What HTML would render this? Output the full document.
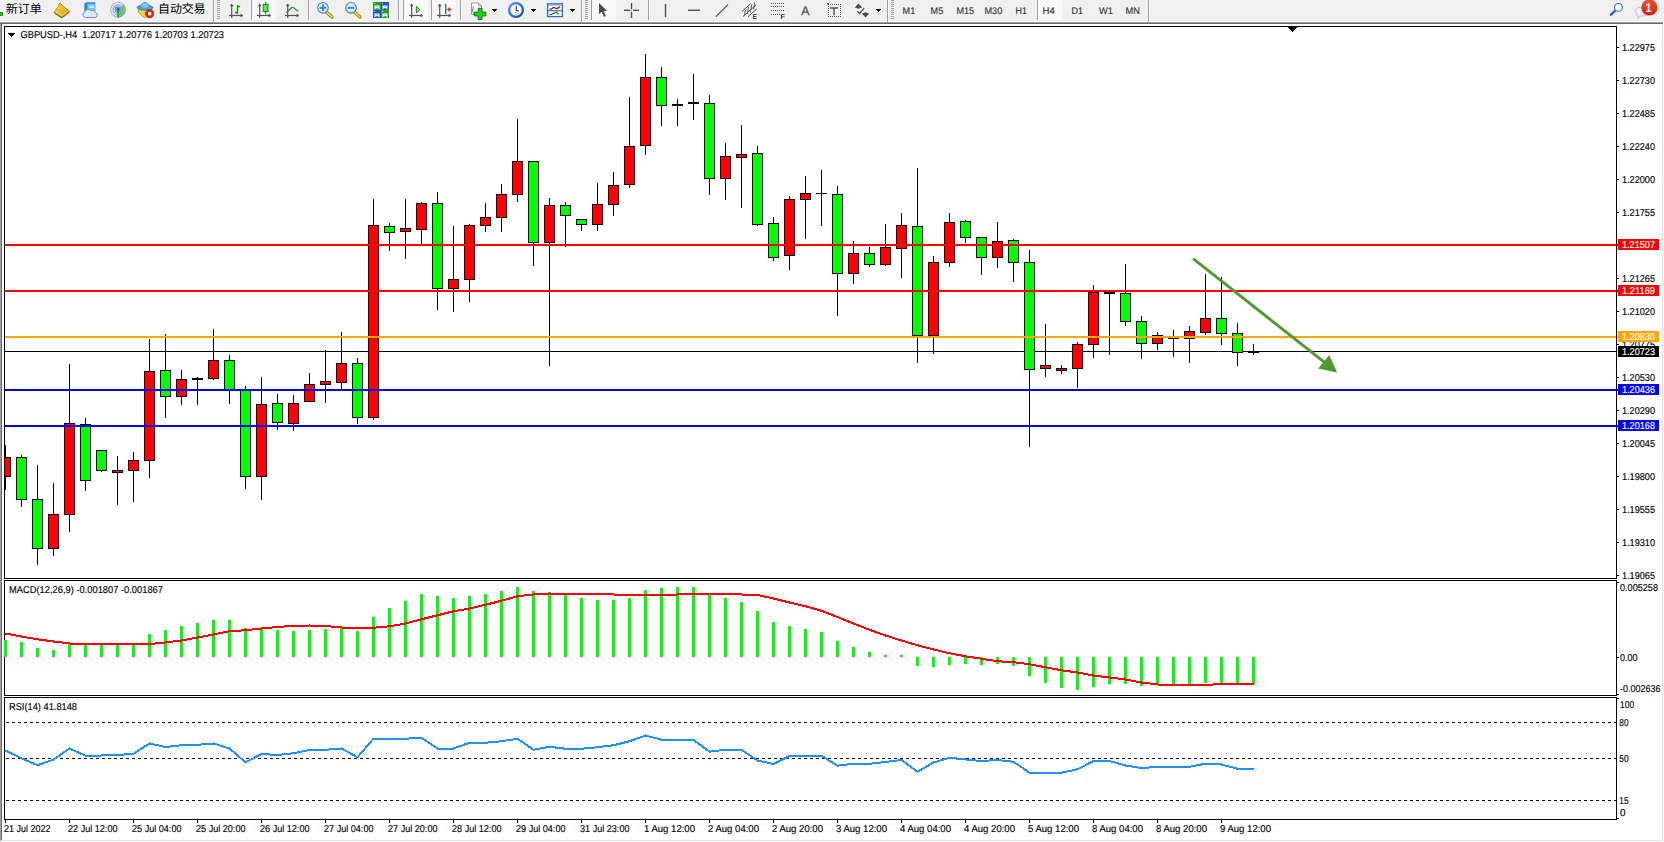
<!DOCTYPE html>
<html><head><meta charset="utf-8"><title>GBPUSD-,H4</title>
<style>
html,body{margin:0;padding:0;background:#f0f0f0;overflow:hidden}
body{width:1664px;height:842px}
svg{display:block;font-family:"Liberation Sans","Noto Sans CJK SC",sans-serif}
</style></head><body>
<svg width="1664" height="842" viewBox="0 0 1664 842" shape-rendering="crispEdges" text-rendering="geometricPrecision">
<rect x="0" y="0" width="1664" height="21" fill="#f0f0f0"/>
<rect x="0" y="21" width="1664" height="1" fill="#fafafa"/>
<rect x="0" y="22" width="1663" height="1" fill="#a0a0a0"/>
<rect x="0" y="23" width="1663" height="1" fill="#696969"/>
<rect x="0" y="24" width="1" height="817" fill="#a0a0a0"/>
<rect x="1" y="24" width="1" height="816" fill="#696969"/>
<rect x="2" y="24" width="1660" height="816" fill="#ffffff"/>
<rect x="1662" y="24" width="1" height="817" fill="#e3e3e3"/>
<rect x="1663" y="22" width="1" height="820" fill="#f6f6f6"/>
<rect x="2" y="840" width="1661" height="1" fill="#e3e3e3"/>
<rect x="2" y="841" width="1662" height="1" fill="#ffffff"/>
<rect x="4" y="26" width="1613" height="1" fill="#000"/>
<rect x="4" y="578" width="1613" height="1" fill="#000"/>
<rect x="4" y="26" width="1" height="553" fill="#000"/>
<rect x="1616" y="26" width="1" height="553" fill="#000"/>
<rect x="4" y="580" width="1613" height="1" fill="#000"/>
<rect x="4" y="695" width="1613" height="1" fill="#000"/>
<rect x="4" y="580" width="1" height="116" fill="#000"/>
<rect x="1616" y="580" width="1" height="116" fill="#000"/>
<rect x="4" y="697" width="1613" height="1" fill="#000"/>
<rect x="4" y="819" width="1613" height="1" fill="#000"/>
<rect x="4" y="697" width="1" height="123" fill="#000"/>
<rect x="1616" y="697" width="1" height="123" fill="#000"/>
<rect x="5" y="351" width="1611" height="1" fill="#000"/>
<g id="candles">
<rect x="5" y="445" width="1" height="45" fill="#000"/>
<rect x="5" y="457" width="6" height="20" fill="#000"/>
<rect x="5" y="458" width="5" height="18" fill="#ff0000"/>
<rect x="21" y="455" width="1" height="52" fill="#000"/>
<rect x="16" y="457" width="11" height="43" fill="#000"/>
<rect x="17" y="458" width="9" height="41" fill="#00ff00"/>
<rect x="37" y="465" width="1" height="100" fill="#000"/>
<rect x="32" y="499" width="11" height="50" fill="#000"/>
<rect x="33" y="500" width="9" height="48" fill="#00ff00"/>
<rect x="53" y="483" width="1" height="73" fill="#000"/>
<rect x="48" y="514" width="11" height="35" fill="#000"/>
<rect x="49" y="515" width="9" height="33" fill="#ff0000"/>
<rect x="69" y="364" width="1" height="168" fill="#000"/>
<rect x="64" y="423" width="11" height="92" fill="#000"/>
<rect x="65" y="424" width="9" height="90" fill="#ff0000"/>
<rect x="85" y="418" width="1" height="73" fill="#000"/>
<rect x="80" y="424" width="11" height="57" fill="#000"/>
<rect x="81" y="425" width="9" height="55" fill="#00ff00"/>
<rect x="101" y="450" width="1" height="22" fill="#000"/>
<rect x="96" y="450" width="11" height="21" fill="#000"/>
<rect x="97" y="451" width="9" height="19" fill="#00ff00"/>
<rect x="117" y="456" width="1" height="49" fill="#000"/>
<rect x="112" y="470" width="11" height="3" fill="#000"/>
<rect x="113" y="471" width="9" height="1" fill="#ff0000"/>
<rect x="133" y="452" width="1" height="50" fill="#000"/>
<rect x="128" y="460" width="11" height="11" fill="#000"/>
<rect x="129" y="461" width="9" height="9" fill="#ff0000"/>
<rect x="149" y="339" width="1" height="139" fill="#000"/>
<rect x="144" y="371" width="11" height="90" fill="#000"/>
<rect x="145" y="372" width="9" height="88" fill="#ff0000"/>
<rect x="165" y="334" width="1" height="84" fill="#000"/>
<rect x="160" y="370" width="11" height="27" fill="#000"/>
<rect x="161" y="371" width="9" height="25" fill="#00ff00"/>
<rect x="181" y="370" width="1" height="35" fill="#000"/>
<rect x="176" y="379" width="11" height="18" fill="#000"/>
<rect x="177" y="380" width="9" height="16" fill="#ff0000"/>
<rect x="197" y="377" width="1" height="28" fill="#000"/>
<rect x="192" y="378" width="11" height="2" fill="#000"/>
<rect x="213" y="329" width="1" height="51" fill="#000"/>
<rect x="208" y="360" width="11" height="19" fill="#000"/>
<rect x="209" y="361" width="9" height="17" fill="#ff0000"/>
<rect x="229" y="355" width="1" height="49" fill="#000"/>
<rect x="224" y="360" width="11" height="30" fill="#000"/>
<rect x="225" y="361" width="9" height="28" fill="#00ff00"/>
<rect x="245" y="386" width="1" height="103" fill="#000"/>
<rect x="240" y="389" width="11" height="88" fill="#000"/>
<rect x="241" y="390" width="9" height="86" fill="#00ff00"/>
<rect x="261" y="377" width="1" height="123" fill="#000"/>
<rect x="256" y="404" width="11" height="73" fill="#000"/>
<rect x="257" y="405" width="9" height="71" fill="#ff0000"/>
<rect x="277" y="394" width="1" height="36" fill="#000"/>
<rect x="272" y="403" width="11" height="20" fill="#000"/>
<rect x="273" y="404" width="9" height="18" fill="#00ff00"/>
<rect x="293" y="395" width="1" height="36" fill="#000"/>
<rect x="288" y="403" width="11" height="21" fill="#000"/>
<rect x="289" y="404" width="9" height="19" fill="#ff0000"/>
<rect x="309" y="373" width="1" height="29" fill="#000"/>
<rect x="304" y="384" width="11" height="18" fill="#000"/>
<rect x="305" y="385" width="9" height="16" fill="#ff0000"/>
<rect x="325" y="350" width="1" height="53" fill="#000"/>
<rect x="320" y="381" width="11" height="4" fill="#000"/>
<rect x="321" y="382" width="9" height="2" fill="#ff0000"/>
<rect x="341" y="332" width="1" height="57" fill="#000"/>
<rect x="336" y="363" width="11" height="20" fill="#000"/>
<rect x="337" y="364" width="9" height="18" fill="#ff0000"/>
<rect x="357" y="358" width="1" height="66" fill="#000"/>
<rect x="352" y="363" width="11" height="55" fill="#000"/>
<rect x="353" y="364" width="9" height="53" fill="#00ff00"/>
<rect x="373" y="199" width="1" height="221" fill="#000"/>
<rect x="368" y="225" width="11" height="193" fill="#000"/>
<rect x="369" y="226" width="9" height="191" fill="#ff0000"/>
<rect x="389" y="223" width="1" height="28" fill="#000"/>
<rect x="384" y="226" width="11" height="7" fill="#000"/>
<rect x="385" y="227" width="9" height="5" fill="#00ff00"/>
<rect x="405" y="199" width="1" height="60" fill="#000"/>
<rect x="400" y="228" width="11" height="4" fill="#000"/>
<rect x="401" y="229" width="9" height="2" fill="#ff0000"/>
<rect x="421" y="202" width="1" height="42" fill="#000"/>
<rect x="416" y="203" width="11" height="27" fill="#000"/>
<rect x="417" y="204" width="9" height="25" fill="#ff0000"/>
<rect x="437" y="192" width="1" height="118" fill="#000"/>
<rect x="432" y="203" width="11" height="86" fill="#000"/>
<rect x="433" y="204" width="9" height="84" fill="#00ff00"/>
<rect x="453" y="226" width="1" height="86" fill="#000"/>
<rect x="448" y="279" width="11" height="10" fill="#000"/>
<rect x="449" y="280" width="9" height="8" fill="#ff0000"/>
<rect x="469" y="224" width="1" height="78" fill="#000"/>
<rect x="464" y="225" width="11" height="55" fill="#000"/>
<rect x="465" y="226" width="9" height="53" fill="#ff0000"/>
<rect x="485" y="203" width="1" height="29" fill="#000"/>
<rect x="480" y="217" width="11" height="9" fill="#000"/>
<rect x="481" y="218" width="9" height="7" fill="#ff0000"/>
<rect x="501" y="184" width="1" height="48" fill="#000"/>
<rect x="496" y="194" width="11" height="24" fill="#000"/>
<rect x="497" y="195" width="9" height="22" fill="#ff0000"/>
<rect x="517" y="119" width="1" height="83" fill="#000"/>
<rect x="512" y="161" width="11" height="34" fill="#000"/>
<rect x="513" y="162" width="9" height="32" fill="#ff0000"/>
<rect x="533" y="161" width="1" height="105" fill="#000"/>
<rect x="528" y="161" width="11" height="82" fill="#000"/>
<rect x="529" y="162" width="9" height="80" fill="#00ff00"/>
<rect x="549" y="198" width="1" height="168" fill="#000"/>
<rect x="544" y="205" width="11" height="38" fill="#000"/>
<rect x="545" y="206" width="9" height="36" fill="#ff0000"/>
<rect x="565" y="202" width="1" height="45" fill="#000"/>
<rect x="560" y="205" width="11" height="11" fill="#000"/>
<rect x="561" y="206" width="9" height="9" fill="#00ff00"/>
<rect x="581" y="219" width="1" height="12" fill="#000"/>
<rect x="576" y="219" width="11" height="6" fill="#000"/>
<rect x="577" y="220" width="9" height="4" fill="#00ff00"/>
<rect x="597" y="183" width="1" height="48" fill="#000"/>
<rect x="592" y="204" width="11" height="21" fill="#000"/>
<rect x="593" y="205" width="9" height="19" fill="#ff0000"/>
<rect x="613" y="172" width="1" height="44" fill="#000"/>
<rect x="608" y="185" width="11" height="20" fill="#000"/>
<rect x="609" y="186" width="9" height="18" fill="#ff0000"/>
<rect x="629" y="97" width="1" height="91" fill="#000"/>
<rect x="624" y="146" width="11" height="39" fill="#000"/>
<rect x="625" y="147" width="9" height="37" fill="#ff0000"/>
<rect x="645" y="54" width="1" height="101" fill="#000"/>
<rect x="640" y="77" width="11" height="69" fill="#000"/>
<rect x="641" y="78" width="9" height="67" fill="#ff0000"/>
<rect x="661" y="67" width="1" height="59" fill="#000"/>
<rect x="656" y="77" width="11" height="29" fill="#000"/>
<rect x="657" y="78" width="9" height="27" fill="#00ff00"/>
<rect x="677" y="99" width="1" height="27" fill="#000"/>
<rect x="672" y="104" width="11" height="2" fill="#000"/>
<rect x="693" y="74" width="1" height="46" fill="#000"/>
<rect x="688" y="102" width="11" height="2" fill="#000"/>
<rect x="709" y="95" width="1" height="100" fill="#000"/>
<rect x="704" y="103" width="11" height="76" fill="#000"/>
<rect x="705" y="104" width="9" height="74" fill="#00ff00"/>
<rect x="725" y="143" width="1" height="57" fill="#000"/>
<rect x="720" y="156" width="11" height="23" fill="#000"/>
<rect x="721" y="157" width="9" height="21" fill="#ff0000"/>
<rect x="741" y="125" width="1" height="83" fill="#000"/>
<rect x="736" y="154" width="11" height="4" fill="#000"/>
<rect x="737" y="155" width="9" height="2" fill="#ff0000"/>
<rect x="757" y="146" width="1" height="80" fill="#000"/>
<rect x="752" y="153" width="11" height="72" fill="#000"/>
<rect x="753" y="154" width="9" height="70" fill="#00ff00"/>
<rect x="773" y="217" width="1" height="44" fill="#000"/>
<rect x="768" y="223" width="11" height="35" fill="#000"/>
<rect x="769" y="224" width="9" height="33" fill="#00ff00"/>
<rect x="789" y="196" width="1" height="74" fill="#000"/>
<rect x="784" y="199" width="11" height="57" fill="#000"/>
<rect x="785" y="200" width="9" height="55" fill="#ff0000"/>
<rect x="805" y="176" width="1" height="63" fill="#000"/>
<rect x="800" y="193" width="11" height="7" fill="#000"/>
<rect x="801" y="194" width="9" height="5" fill="#ff0000"/>
<rect x="821" y="170" width="1" height="56" fill="#000"/>
<rect x="816" y="193" width="11" height="1" fill="#000"/>
<rect x="837" y="186" width="1" height="130" fill="#000"/>
<rect x="832" y="194" width="11" height="80" fill="#000"/>
<rect x="833" y="195" width="9" height="78" fill="#00ff00"/>
<rect x="853" y="241" width="1" height="43" fill="#000"/>
<rect x="848" y="253" width="11" height="21" fill="#000"/>
<rect x="849" y="254" width="9" height="19" fill="#ff0000"/>
<rect x="869" y="247" width="1" height="20" fill="#000"/>
<rect x="864" y="253" width="11" height="12" fill="#000"/>
<rect x="865" y="254" width="9" height="10" fill="#00ff00"/>
<rect x="885" y="224" width="1" height="42" fill="#000"/>
<rect x="880" y="247" width="11" height="18" fill="#000"/>
<rect x="881" y="248" width="9" height="16" fill="#ff0000"/>
<rect x="901" y="213" width="1" height="65" fill="#000"/>
<rect x="896" y="225" width="11" height="24" fill="#000"/>
<rect x="897" y="226" width="9" height="22" fill="#ff0000"/>
<rect x="917" y="168" width="1" height="195" fill="#000"/>
<rect x="912" y="226" width="11" height="110" fill="#000"/>
<rect x="913" y="227" width="9" height="108" fill="#00ff00"/>
<rect x="933" y="256" width="1" height="98" fill="#000"/>
<rect x="928" y="262" width="11" height="74" fill="#000"/>
<rect x="929" y="263" width="9" height="72" fill="#ff0000"/>
<rect x="949" y="213" width="1" height="54" fill="#000"/>
<rect x="944" y="222" width="11" height="41" fill="#000"/>
<rect x="945" y="223" width="9" height="39" fill="#ff0000"/>
<rect x="965" y="220" width="1" height="23" fill="#000"/>
<rect x="960" y="221" width="11" height="17" fill="#000"/>
<rect x="961" y="222" width="9" height="15" fill="#00ff00"/>
<rect x="981" y="237" width="1" height="38" fill="#000"/>
<rect x="976" y="237" width="11" height="21" fill="#000"/>
<rect x="977" y="238" width="9" height="19" fill="#00ff00"/>
<rect x="997" y="222" width="1" height="46" fill="#000"/>
<rect x="992" y="241" width="11" height="17" fill="#000"/>
<rect x="993" y="242" width="9" height="15" fill="#ff0000"/>
<rect x="1013" y="239" width="1" height="43" fill="#000"/>
<rect x="1008" y="240" width="11" height="23" fill="#000"/>
<rect x="1009" y="241" width="9" height="21" fill="#00ff00"/>
<rect x="1029" y="250" width="1" height="197" fill="#000"/>
<rect x="1024" y="262" width="11" height="108" fill="#000"/>
<rect x="1025" y="263" width="9" height="106" fill="#00ff00"/>
<rect x="1045" y="324" width="1" height="53" fill="#000"/>
<rect x="1040" y="365" width="11" height="4" fill="#000"/>
<rect x="1041" y="366" width="9" height="2" fill="#ff0000"/>
<rect x="1061" y="365" width="1" height="9" fill="#000"/>
<rect x="1056" y="368" width="11" height="3" fill="#000"/>
<rect x="1057" y="369" width="9" height="1" fill="#ff0000"/>
<rect x="1077" y="342" width="1" height="46" fill="#000"/>
<rect x="1072" y="344" width="11" height="25" fill="#000"/>
<rect x="1073" y="345" width="9" height="23" fill="#ff0000"/>
<rect x="1093" y="285" width="1" height="73" fill="#000"/>
<rect x="1088" y="292" width="11" height="53" fill="#000"/>
<rect x="1089" y="293" width="9" height="51" fill="#ff0000"/>
<rect x="1109" y="292" width="1" height="63" fill="#000"/>
<rect x="1104" y="292" width="11" height="2" fill="#000"/>
<rect x="1125" y="264" width="1" height="62" fill="#000"/>
<rect x="1120" y="293" width="11" height="29" fill="#000"/>
<rect x="1121" y="294" width="9" height="27" fill="#00ff00"/>
<rect x="1141" y="316" width="1" height="43" fill="#000"/>
<rect x="1136" y="321" width="11" height="23" fill="#000"/>
<rect x="1137" y="322" width="9" height="21" fill="#00ff00"/>
<rect x="1157" y="332" width="1" height="18" fill="#000"/>
<rect x="1152" y="335" width="11" height="9" fill="#000"/>
<rect x="1153" y="336" width="9" height="7" fill="#ff0000"/>
<rect x="1173" y="330" width="1" height="27" fill="#000"/>
<rect x="1168" y="338" width="11" height="1" fill="#000"/>
<rect x="1189" y="326" width="1" height="37" fill="#000"/>
<rect x="1184" y="331" width="11" height="8" fill="#000"/>
<rect x="1185" y="332" width="9" height="6" fill="#ff0000"/>
<rect x="1205" y="274" width="1" height="61" fill="#000"/>
<rect x="1200" y="318" width="11" height="15" fill="#000"/>
<rect x="1201" y="319" width="9" height="13" fill="#ff0000"/>
<rect x="1221" y="277" width="1" height="68" fill="#000"/>
<rect x="1216" y="318" width="11" height="16" fill="#000"/>
<rect x="1217" y="319" width="9" height="14" fill="#00ff00"/>
<rect x="1237" y="323" width="1" height="43" fill="#000"/>
<rect x="1232" y="333" width="11" height="20" fill="#000"/>
<rect x="1233" y="334" width="9" height="18" fill="#00ff00"/>
<rect x="1253" y="344" width="1" height="11" fill="#000"/>
<rect x="1248" y="352" width="11" height="1" fill="#000"/>
</g>
<rect x="5" y="244" width="1611" height="2" fill="#ff0000"/>
<rect x="5" y="290" width="1611" height="2" fill="#ff0000"/>
<rect x="5" y="336" width="1611" height="2" fill="#ffa500"/>
<rect x="5" y="389" width="1611" height="2" fill="#0000ff"/>
<rect x="5" y="425" width="1611" height="2" fill="#0000ff"/>
<path d="M1288 27h9l-4.5 5z" fill="#000"/>
<rect x="1288" y="27" width="9" height="1" fill="#000"/>
<rect x="1289" y="28" width="7" height="1" fill="#000"/>
<rect x="1290" y="29" width="5" height="1" fill="#000"/>
<rect x="1291" y="30" width="3" height="1" fill="#000"/>
<rect x="1292" y="31" width="1" height="1" fill="#000"/>
<g shape-rendering="geometricPrecision"><line x1="1193.1" y1="258.7" x2="1325.2" y2="362.8" stroke="#4e9a2e" stroke-width="2.9"/><path d="M1337.2 372.4L1329.2 354.9L1318.2 368.5z" fill="#4e9a2e"/></g>
<rect x="1617" y="47" width="2" height="1" fill="#000"/>
<text x="1622" y="51" font-size="10" fill="#000" stroke="#000" stroke-width="0.15" textLength="33" lengthAdjust="spacingAndGlyphs">1.22975</text>
<rect x="1617" y="80" width="2" height="1" fill="#000"/>
<text x="1622" y="84" font-size="10" fill="#000" stroke="#000" stroke-width="0.15" textLength="33" lengthAdjust="spacingAndGlyphs">1.22730</text>
<rect x="1617" y="113" width="2" height="1" fill="#000"/>
<text x="1622" y="117" font-size="10" fill="#000" stroke="#000" stroke-width="0.15" textLength="33" lengthAdjust="spacingAndGlyphs">1.22485</text>
<rect x="1617" y="146" width="2" height="1" fill="#000"/>
<text x="1622" y="150" font-size="10" fill="#000" stroke="#000" stroke-width="0.15" textLength="33" lengthAdjust="spacingAndGlyphs">1.22240</text>
<rect x="1617" y="179" width="2" height="1" fill="#000"/>
<text x="1622" y="183" font-size="10" fill="#000" stroke="#000" stroke-width="0.15" textLength="33" lengthAdjust="spacingAndGlyphs">1.22000</text>
<rect x="1617" y="212" width="2" height="1" fill="#000"/>
<text x="1622" y="216" font-size="10" fill="#000" stroke="#000" stroke-width="0.15" textLength="33" lengthAdjust="spacingAndGlyphs">1.21755</text>
<rect x="1617" y="245" width="2" height="1" fill="#000"/>
<text x="1622" y="249" font-size="10" fill="#000" stroke="#000" stroke-width="0.15" textLength="33" lengthAdjust="spacingAndGlyphs">1.21510</text>
<rect x="1617" y="278" width="2" height="1" fill="#000"/>
<text x="1622" y="282" font-size="10" fill="#000" stroke="#000" stroke-width="0.15" textLength="33" lengthAdjust="spacingAndGlyphs">1.21265</text>
<rect x="1617" y="311" width="2" height="1" fill="#000"/>
<text x="1622" y="315" font-size="10" fill="#000" stroke="#000" stroke-width="0.15" textLength="33" lengthAdjust="spacingAndGlyphs">1.21020</text>
<rect x="1617" y="344" width="2" height="1" fill="#000"/>
<text x="1622" y="348" font-size="10" fill="#000" stroke="#000" stroke-width="0.15" textLength="33" lengthAdjust="spacingAndGlyphs">1.20775</text>
<rect x="1617" y="377" width="2" height="1" fill="#000"/>
<text x="1622" y="381" font-size="10" fill="#000" stroke="#000" stroke-width="0.15" textLength="33" lengthAdjust="spacingAndGlyphs">1.20530</text>
<rect x="1617" y="410" width="2" height="1" fill="#000"/>
<text x="1622" y="414" font-size="10" fill="#000" stroke="#000" stroke-width="0.15" textLength="33" lengthAdjust="spacingAndGlyphs">1.20290</text>
<rect x="1617" y="443" width="2" height="1" fill="#000"/>
<text x="1622" y="447" font-size="10" fill="#000" stroke="#000" stroke-width="0.15" textLength="33" lengthAdjust="spacingAndGlyphs">1.20045</text>
<rect x="1617" y="476" width="2" height="1" fill="#000"/>
<text x="1622" y="480" font-size="10" fill="#000" stroke="#000" stroke-width="0.15" textLength="33" lengthAdjust="spacingAndGlyphs">1.19800</text>
<rect x="1617" y="509" width="2" height="1" fill="#000"/>
<text x="1622" y="513" font-size="10" fill="#000" stroke="#000" stroke-width="0.15" textLength="33" lengthAdjust="spacingAndGlyphs">1.19555</text>
<rect x="1617" y="542" width="2" height="1" fill="#000"/>
<text x="1622" y="546" font-size="10" fill="#000" stroke="#000" stroke-width="0.15" textLength="33" lengthAdjust="spacingAndGlyphs">1.19310</text>
<rect x="1617" y="575" width="2" height="1" fill="#000"/>
<text x="1622" y="579" font-size="10" fill="#000" stroke="#000" stroke-width="0.15" textLength="33" lengthAdjust="spacingAndGlyphs">1.19065</text>
<rect x="1618" y="239" width="41" height="11" fill="#ff0000"/>
<text x="1622" y="248" font-size="10" fill="#fff" stroke="#fff" stroke-width="0.15" textLength="33" lengthAdjust="spacingAndGlyphs">1.21507</text>
<rect x="1618" y="285" width="41" height="11" fill="#ff0000"/>
<text x="1622" y="294" font-size="10" fill="#fff" stroke="#fff" stroke-width="0.15" textLength="33" lengthAdjust="spacingAndGlyphs">1.21169</text>
<rect x="1618" y="331" width="41" height="11" fill="#ffa500"/>
<text x="1622" y="340" font-size="10" fill="#fff" stroke="#fff" stroke-width="0.15" textLength="33" lengthAdjust="spacingAndGlyphs">1.20830</text>
<rect x="1618" y="346" width="41" height="11" fill="#000000"/>
<text x="1622" y="355" font-size="10" fill="#fff" stroke="#fff" stroke-width="0.15" textLength="33" lengthAdjust="spacingAndGlyphs">1.20723</text>
<rect x="1618" y="384" width="41" height="11" fill="#0000ff"/>
<text x="1622" y="393" font-size="10" fill="#fff" stroke="#fff" stroke-width="0.15" textLength="33" lengthAdjust="spacingAndGlyphs">1.20436</text>
<rect x="1618" y="420" width="41" height="11" fill="#0000ff"/>
<text x="1622" y="429" font-size="10" fill="#fff" stroke="#fff" stroke-width="0.15" textLength="33" lengthAdjust="spacingAndGlyphs">1.20168</text>
<rect x="1617" y="244" width="1" height="2" fill="#ff0000"/>
<rect x="1617" y="290" width="1" height="2" fill="#ff0000"/>
<rect x="1617" y="336" width="1" height="2" fill="#ffa500"/>
<rect x="1617" y="389" width="1" height="2" fill="#0000ff"/>
<rect x="1617" y="425" width="1" height="2" fill="#0000ff"/>
<rect x="4" y="640" width="3" height="17" fill="#00ff00"/>
<rect x="20" y="642" width="3" height="15" fill="#00ff00"/>
<rect x="36" y="648" width="3" height="9" fill="#00ff00"/>
<rect x="52" y="650" width="3" height="7" fill="#00ff00"/>
<rect x="68" y="644" width="3" height="13" fill="#00ff00"/>
<rect x="84" y="644" width="3" height="13" fill="#00ff00"/>
<rect x="100" y="644" width="3" height="13" fill="#00ff00"/>
<rect x="116" y="644" width="3" height="13" fill="#00ff00"/>
<rect x="132" y="644" width="3" height="13" fill="#00ff00"/>
<rect x="148" y="634" width="3" height="23" fill="#00ff00"/>
<rect x="164" y="630" width="3" height="27" fill="#00ff00"/>
<rect x="180" y="626" width="3" height="31" fill="#00ff00"/>
<rect x="196" y="623" width="3" height="34" fill="#00ff00"/>
<rect x="212" y="620" width="3" height="37" fill="#00ff00"/>
<rect x="228" y="620" width="3" height="37" fill="#00ff00"/>
<rect x="244" y="628" width="3" height="29" fill="#00ff00"/>
<rect x="260" y="629" width="3" height="28" fill="#00ff00"/>
<rect x="276" y="630" width="3" height="27" fill="#00ff00"/>
<rect x="292" y="631" width="3" height="26" fill="#00ff00"/>
<rect x="308" y="630" width="3" height="27" fill="#00ff00"/>
<rect x="324" y="629" width="3" height="28" fill="#00ff00"/>
<rect x="340" y="628" width="3" height="29" fill="#00ff00"/>
<rect x="356" y="631" width="3" height="26" fill="#00ff00"/>
<rect x="372" y="617" width="3" height="40" fill="#00ff00"/>
<rect x="388" y="608" width="3" height="49" fill="#00ff00"/>
<rect x="404" y="601" width="3" height="56" fill="#00ff00"/>
<rect x="420" y="594" width="3" height="63" fill="#00ff00"/>
<rect x="436" y="596" width="3" height="61" fill="#00ff00"/>
<rect x="452" y="598" width="3" height="59" fill="#00ff00"/>
<rect x="468" y="596" width="3" height="61" fill="#00ff00"/>
<rect x="484" y="594" width="3" height="63" fill="#00ff00"/>
<rect x="500" y="591" width="3" height="66" fill="#00ff00"/>
<rect x="516" y="587" width="3" height="70" fill="#00ff00"/>
<rect x="532" y="591" width="3" height="66" fill="#00ff00"/>
<rect x="548" y="592" width="3" height="65" fill="#00ff00"/>
<rect x="564" y="595" width="3" height="62" fill="#00ff00"/>
<rect x="580" y="598" width="3" height="59" fill="#00ff00"/>
<rect x="596" y="600" width="3" height="57" fill="#00ff00"/>
<rect x="612" y="600" width="3" height="57" fill="#00ff00"/>
<rect x="628" y="598" width="3" height="59" fill="#00ff00"/>
<rect x="644" y="590" width="3" height="67" fill="#00ff00"/>
<rect x="660" y="588" width="3" height="69" fill="#00ff00"/>
<rect x="676" y="587" width="3" height="70" fill="#00ff00"/>
<rect x="692" y="587" width="3" height="70" fill="#00ff00"/>
<rect x="708" y="594" width="3" height="63" fill="#00ff00"/>
<rect x="724" y="598" width="3" height="59" fill="#00ff00"/>
<rect x="740" y="602" width="3" height="55" fill="#00ff00"/>
<rect x="756" y="611" width="3" height="46" fill="#00ff00"/>
<rect x="772" y="622" width="3" height="35" fill="#00ff00"/>
<rect x="788" y="626" width="3" height="31" fill="#00ff00"/>
<rect x="804" y="629" width="3" height="28" fill="#00ff00"/>
<rect x="820" y="632" width="3" height="25" fill="#00ff00"/>
<rect x="836" y="641" width="3" height="16" fill="#00ff00"/>
<rect x="852" y="647" width="3" height="10" fill="#00ff00"/>
<rect x="868" y="652" width="3" height="5" fill="#00ff00"/>
<rect x="884" y="655" width="3" height="2" fill="#00ff00"/>
<rect x="900" y="655" width="3" height="2" fill="#00ff00"/>
<rect x="916" y="657" width="3" height="9" fill="#00ff00"/>
<rect x="932" y="657" width="3" height="10" fill="#00ff00"/>
<rect x="948" y="657" width="3" height="8" fill="#00ff00"/>
<rect x="964" y="657" width="3" height="7" fill="#00ff00"/>
<rect x="980" y="657" width="3" height="8" fill="#00ff00"/>
<rect x="996" y="657" width="3" height="7" fill="#00ff00"/>
<rect x="1012" y="657" width="3" height="9" fill="#00ff00"/>
<rect x="1028" y="657" width="3" height="19" fill="#00ff00"/>
<rect x="1044" y="657" width="3" height="26" fill="#00ff00"/>
<rect x="1060" y="657" width="3" height="31" fill="#00ff00"/>
<rect x="1076" y="657" width="3" height="33" fill="#00ff00"/>
<rect x="1092" y="657" width="3" height="30" fill="#00ff00"/>
<rect x="1108" y="657" width="3" height="27" fill="#00ff00"/>
<rect x="1124" y="657" width="3" height="27" fill="#00ff00"/>
<rect x="1140" y="657" width="3" height="29" fill="#00ff00"/>
<rect x="1156" y="657" width="3" height="28" fill="#00ff00"/>
<rect x="1172" y="657" width="3" height="27" fill="#00ff00"/>
<rect x="1188" y="657" width="3" height="27" fill="#00ff00"/>
<rect x="1204" y="657" width="3" height="26" fill="#00ff00"/>
<rect x="1220" y="657" width="3" height="26" fill="#00ff00"/>
<rect x="1236" y="657" width="3" height="26" fill="#00ff00"/>
<rect x="1252" y="657" width="3" height="27" fill="#00ff00"/>
<polyline points="5.5,633.5 21.5,636.5 37.5,639.25 53.5,641.5 69.5,643.5 85.5,644 101.5,644 117.5,644 133.5,644 149.5,644 165.5,642.5 181.5,640.5 197.5,637.5 213.5,634.5 229.5,631.25 245.5,630.25 261.5,628.5 277.5,627 293.5,625.75 309.5,625.5 325.5,626 341.5,627.5 357.5,627.75 373.5,627.75 389.5,626.25 405.5,623.5 421.5,619.25 437.5,615.25 453.5,611.25 469.5,608.5 485.5,604.75 501.5,600.75 517.5,596.25 533.5,594.5 549.5,593.5 565.5,593.75 581.5,594 597.5,594 613.5,594.5 629.5,595 645.5,595 661.5,595 677.5,594.5 693.5,594 709.5,593.5 725.5,593.5 741.5,594.5 757.5,595 773.5,598.5 789.5,602.5 805.5,606.25 821.5,610.75 837.5,617 853.5,623.5 869.5,629.75 885.5,635.5 901.5,640.5 917.5,645.25 933.5,649.5 949.5,653.25 965.5,656.25 981.5,658.75 997.5,661.25 1013.5,662.25 1029.5,664.25 1045.5,667.25 1061.5,670.25 1077.5,672.5 1093.5,675.5 1109.5,677.5 1125.5,679.5 1141.5,682.5 1157.5,684.5 1173.5,684.75 1189.5,684.75 1205.5,684.75 1221.5,684.25 1237.5,683.75 1253.5,683.75" fill="none" stroke="#ff0000" stroke-width="2"/>
<text x="1620" y="591" font-size="10" fill="#000" stroke="#000" stroke-width="0.15" textLength="38" lengthAdjust="spacingAndGlyphs">0.005258</text>
<text x="1620" y="661" font-size="10" fill="#000" stroke="#000" stroke-width="0.15" textLength="17.6" lengthAdjust="spacingAndGlyphs">0.00</text>
<text x="1620" y="692" font-size="10" fill="#000" stroke="#000" stroke-width="0.15" textLength="40.5" lengthAdjust="spacingAndGlyphs">-0.002636</text>
<rect x="1617" y="657" width="2" height="1" fill="#000"/>
<rect x="1617" y="582" width="2" height="1" fill="#000"/>
<rect x="1617" y="694" width="2" height="1" fill="#000"/>
<rect x="1617" y="698" width="2" height="1" fill="#000"/>
<text x="9" y="593" font-size="10" fill="#000" stroke="#000" stroke-width="0.15" textLength="154" lengthAdjust="spacingAndGlyphs">MACD(12,26,9) -0.001807 -0.001867</text>
<line x1="6" y1="722.5" x2="1616" y2="722.5" stroke="#000" stroke-width="1" stroke-dasharray="3 3"/>
<line x1="6" y1="758.5" x2="1616" y2="758.5" stroke="#000" stroke-width="1" stroke-dasharray="3 3"/>
<line x1="6" y1="800.5" x2="1616" y2="800.5" stroke="#000" stroke-width="1" stroke-dasharray="3 3"/>
<polyline points="5.5,750.5 21.5,758.25 37.5,765.25 53.5,759.5 69.5,748.5 85.5,755.75 101.5,755.5 117.5,755 133.5,753.75 149.5,743.5 165.5,747 181.5,745.25 197.5,744.75 213.5,743.5 229.5,748.5 245.5,762.25 261.5,754 277.5,755 293.5,753.25 309.5,750 325.5,749.75 341.5,748.5 357.5,757.25 373.5,738.75 389.5,738.75 405.5,738.75 421.5,737.75 437.5,748.5 453.5,748.5 469.5,742.75 485.5,742.75 501.5,741.25 517.5,738.75 533.5,749.75 549.5,746.75 565.5,748.75 581.5,748.75 597.5,747.25 613.5,745.25 629.5,741.25 645.5,735.5 661.5,739.75 677.5,739.75 693.5,739.75 709.5,751.75 725.5,749.75 741.5,749.75 757.5,760.5 773.5,764 789.5,756 805.5,755.75 821.5,755.75 837.5,765.75 853.5,763.75 869.5,763.75 885.5,762 901.5,760 917.5,771.75 933.5,762.5 949.5,757.75 965.5,759.5 981.5,761 997.5,760 1013.5,761.75 1029.5,772.75 1045.5,772.75 1061.5,772.75 1077.5,769.25 1093.5,761 1109.5,761 1125.5,765.5 1141.5,768 1157.5,767 1173.5,767 1189.5,766.75 1205.5,763.75 1221.5,764.5 1237.5,768.75 1253.5,768.75" fill="none" stroke="#1e90ff" stroke-width="2"/>
<text x="1620" y="708" font-size="10" fill="#000" stroke="#000" stroke-width="0.15" textLength="14.2" lengthAdjust="spacingAndGlyphs">100</text>
<text x="1619.3" y="726" font-size="10" fill="#000" stroke="#000" stroke-width="0.15" textLength="9.3" lengthAdjust="spacingAndGlyphs">80</text>
<text x="1619.3" y="762" font-size="10" fill="#000" stroke="#000" stroke-width="0.15" textLength="9.3" lengthAdjust="spacingAndGlyphs">50</text>
<text x="1619.3" y="804" font-size="10" fill="#000" stroke="#000" stroke-width="0.15" textLength="9.3" lengthAdjust="spacingAndGlyphs">15</text>
<text x="1620" y="816" font-size="10" fill="#000" stroke="#000" stroke-width="0.15">0</text>
<rect x="1617" y="818" width="2" height="1" fill="#000"/>
<text x="9" y="710" font-size="10" fill="#000" stroke="#000" stroke-width="0.15" textLength="68" lengthAdjust="spacingAndGlyphs">RSI(14) 41.8148</text>
<rect x="5" y="820" width="1" height="3" fill="#000"/>
<text x="4" y="832" font-size="10" fill="#000" stroke="#000" stroke-width="0.15" textLength="46.5" lengthAdjust="spacingAndGlyphs">21 Jul 2022</text>
<rect x="69" y="820" width="1" height="3" fill="#000"/>
<text x="68" y="832" font-size="10" fill="#000" stroke="#000" stroke-width="0.15" textLength="49.5" lengthAdjust="spacingAndGlyphs">22 Jul 12:00</text>
<rect x="133" y="820" width="1" height="3" fill="#000"/>
<text x="132" y="832" font-size="10" fill="#000" stroke="#000" stroke-width="0.15" textLength="49.5" lengthAdjust="spacingAndGlyphs">25 Jul 04:00</text>
<rect x="197" y="820" width="1" height="3" fill="#000"/>
<text x="196" y="832" font-size="10" fill="#000" stroke="#000" stroke-width="0.15" textLength="49.5" lengthAdjust="spacingAndGlyphs">25 Jul 20:00</text>
<rect x="261" y="820" width="1" height="3" fill="#000"/>
<text x="260" y="832" font-size="10" fill="#000" stroke="#000" stroke-width="0.15" textLength="49.5" lengthAdjust="spacingAndGlyphs">26 Jul 12:00</text>
<rect x="325" y="820" width="1" height="3" fill="#000"/>
<text x="324" y="832" font-size="10" fill="#000" stroke="#000" stroke-width="0.15" textLength="49.5" lengthAdjust="spacingAndGlyphs">27 Jul 04:00</text>
<rect x="389" y="820" width="1" height="3" fill="#000"/>
<text x="388" y="832" font-size="10" fill="#000" stroke="#000" stroke-width="0.15" textLength="49.5" lengthAdjust="spacingAndGlyphs">27 Jul 20:00</text>
<rect x="453" y="820" width="1" height="3" fill="#000"/>
<text x="452" y="832" font-size="10" fill="#000" stroke="#000" stroke-width="0.15" textLength="49.5" lengthAdjust="spacingAndGlyphs">28 Jul 12:00</text>
<rect x="517" y="820" width="1" height="3" fill="#000"/>
<text x="516" y="832" font-size="10" fill="#000" stroke="#000" stroke-width="0.15" textLength="49.5" lengthAdjust="spacingAndGlyphs">29 Jul 04:00</text>
<rect x="581" y="820" width="1" height="3" fill="#000"/>
<text x="580" y="832" font-size="10" fill="#000" stroke="#000" stroke-width="0.15" textLength="49.5" lengthAdjust="spacingAndGlyphs">31 Jul 23:00</text>
<rect x="645" y="820" width="1" height="3" fill="#000"/>
<text x="644" y="832" font-size="10" fill="#000" stroke="#000" stroke-width="0.15" textLength="51" lengthAdjust="spacingAndGlyphs">1 Aug 12:00</text>
<rect x="709" y="820" width="1" height="3" fill="#000"/>
<text x="708" y="832" font-size="10" fill="#000" stroke="#000" stroke-width="0.15" textLength="51" lengthAdjust="spacingAndGlyphs">2 Aug 04:00</text>
<rect x="773" y="820" width="1" height="3" fill="#000"/>
<text x="772" y="832" font-size="10" fill="#000" stroke="#000" stroke-width="0.15" textLength="51" lengthAdjust="spacingAndGlyphs">2 Aug 20:00</text>
<rect x="837" y="820" width="1" height="3" fill="#000"/>
<text x="836" y="832" font-size="10" fill="#000" stroke="#000" stroke-width="0.15" textLength="51" lengthAdjust="spacingAndGlyphs">3 Aug 12:00</text>
<rect x="901" y="820" width="1" height="3" fill="#000"/>
<text x="900" y="832" font-size="10" fill="#000" stroke="#000" stroke-width="0.15" textLength="51" lengthAdjust="spacingAndGlyphs">4 Aug 04:00</text>
<rect x="965" y="820" width="1" height="3" fill="#000"/>
<text x="964" y="832" font-size="10" fill="#000" stroke="#000" stroke-width="0.15" textLength="51" lengthAdjust="spacingAndGlyphs">4 Aug 20:00</text>
<rect x="1029" y="820" width="1" height="3" fill="#000"/>
<text x="1028" y="832" font-size="10" fill="#000" stroke="#000" stroke-width="0.15" textLength="51" lengthAdjust="spacingAndGlyphs">5 Aug 12:00</text>
<rect x="1093" y="820" width="1" height="3" fill="#000"/>
<text x="1092" y="832" font-size="10" fill="#000" stroke="#000" stroke-width="0.15" textLength="51" lengthAdjust="spacingAndGlyphs">8 Aug 04:00</text>
<rect x="1157" y="820" width="1" height="3" fill="#000"/>
<text x="1156" y="832" font-size="10" fill="#000" stroke="#000" stroke-width="0.15" textLength="51" lengthAdjust="spacingAndGlyphs">8 Aug 20:00</text>
<rect x="1221" y="820" width="1" height="3" fill="#000"/>
<text x="1220" y="832" font-size="10" fill="#000" stroke="#000" stroke-width="0.15" textLength="51" lengthAdjust="spacingAndGlyphs">9 Aug 12:00</text>
<rect x="8" y="33" width="7" height="1" fill="#000"/>
<rect x="9" y="34" width="5" height="1" fill="#000"/>
<rect x="10" y="35" width="3" height="1" fill="#000"/>
<rect x="11" y="36" width="1" height="1" fill="#000"/>
<text x="20.5" y="38" font-size="10" fill="#000" stroke="#000" stroke-width="0.15" textLength="203.5" lengthAdjust="spacingAndGlyphs">GBPUSD-,H4&#160;&#160;1.20717 1.20776 1.20703 1.20723</text>
<g shape-rendering="crispEdges">
<rect x="252" y="0" width="24" height="20" fill="#f9f9f9"/>
<rect x="404" y="0" width="24" height="20" fill="#f9f9f9"/>
<rect x="432" y="0" width="24" height="20" fill="#f9f9f9"/>
<rect x="592" y="0" width="24" height="20" fill="#f9f9f9"/>
<rect x="1038" y="0" width="24" height="20" fill="#f9f9f9"/>
<rect x="213" y="0" width="1" height="22" fill="#a0a0a0"/>
<rect x="214" y="0" width="1" height="22" fill="#fbfbfb"/>
<rect x="251" y="0" width="1" height="20" fill="#a0a0a0"/>
<rect x="252" y="0" width="1" height="20" fill="#fbfbfb"/>
<rect x="308" y="0" width="1" height="20" fill="#a0a0a0"/>
<rect x="309" y="0" width="1" height="20" fill="#fbfbfb"/>
<rect x="398" y="0" width="1" height="20" fill="#a0a0a0"/>
<rect x="399" y="0" width="1" height="20" fill="#fbfbfb"/>
<rect x="403" y="0" width="1" height="20" fill="#a0a0a0"/>
<rect x="404" y="0" width="1" height="20" fill="#fbfbfb"/>
<rect x="431" y="0" width="1" height="20" fill="#a0a0a0"/>
<rect x="432" y="0" width="1" height="20" fill="#fbfbfb"/>
<rect x="460" y="0" width="1" height="20" fill="#a0a0a0"/>
<rect x="461" y="0" width="1" height="20" fill="#fbfbfb"/>
<rect x="591" y="0" width="1" height="20" fill="#a0a0a0"/>
<rect x="592" y="0" width="1" height="20" fill="#fbfbfb"/>
<rect x="648" y="0" width="1" height="20" fill="#a0a0a0"/>
<rect x="649" y="0" width="1" height="20" fill="#fbfbfb"/>
<rect x="1037" y="0" width="1" height="20" fill="#a0a0a0"/>
<rect x="1038" y="0" width="1" height="20" fill="#fbfbfb"/>
<rect x="581" y="0" width="1" height="22" fill="#a0a0a0"/>
<rect x="582" y="0" width="1" height="22" fill="#fbfbfb"/>
<rect x="887" y="0" width="1" height="22" fill="#a0a0a0"/>
<rect x="888" y="0" width="1" height="22" fill="#fbfbfb"/>
<rect x="1148" y="0" width="1" height="22" fill="#a0a0a0"/>
<rect x="1149" y="0" width="1" height="22" fill="#fbfbfb"/>
<rect x="217" y="0" width="3" height="1" fill="#a3a3a3"/>
<rect x="217" y="2" width="3" height="1" fill="#a3a3a3"/>
<rect x="217" y="4" width="3" height="1" fill="#a3a3a3"/>
<rect x="217" y="6" width="3" height="1" fill="#a3a3a3"/>
<rect x="217" y="8" width="3" height="1" fill="#a3a3a3"/>
<rect x="217" y="10" width="3" height="1" fill="#a3a3a3"/>
<rect x="217" y="12" width="3" height="1" fill="#a3a3a3"/>
<rect x="217" y="14" width="3" height="1" fill="#a3a3a3"/>
<rect x="217" y="16" width="3" height="1" fill="#a3a3a3"/>
<rect x="217" y="18" width="3" height="1" fill="#a3a3a3"/>
<rect x="585" y="0" width="3" height="1" fill="#a3a3a3"/>
<rect x="585" y="2" width="3" height="1" fill="#a3a3a3"/>
<rect x="585" y="4" width="3" height="1" fill="#a3a3a3"/>
<rect x="585" y="6" width="3" height="1" fill="#a3a3a3"/>
<rect x="585" y="8" width="3" height="1" fill="#a3a3a3"/>
<rect x="585" y="10" width="3" height="1" fill="#a3a3a3"/>
<rect x="585" y="12" width="3" height="1" fill="#a3a3a3"/>
<rect x="585" y="14" width="3" height="1" fill="#a3a3a3"/>
<rect x="585" y="16" width="3" height="1" fill="#a3a3a3"/>
<rect x="585" y="18" width="3" height="1" fill="#a3a3a3"/>
<rect x="891" y="0" width="3" height="1" fill="#a3a3a3"/>
<rect x="891" y="2" width="3" height="1" fill="#a3a3a3"/>
<rect x="891" y="4" width="3" height="1" fill="#a3a3a3"/>
<rect x="891" y="6" width="3" height="1" fill="#a3a3a3"/>
<rect x="891" y="8" width="3" height="1" fill="#a3a3a3"/>
<rect x="891" y="10" width="3" height="1" fill="#a3a3a3"/>
<rect x="891" y="12" width="3" height="1" fill="#a3a3a3"/>
<rect x="891" y="14" width="3" height="1" fill="#a3a3a3"/>
<rect x="891" y="16" width="3" height="1" fill="#a3a3a3"/>
<rect x="891" y="18" width="3" height="1" fill="#a3a3a3"/>
<rect x="492" y="9" width="5" height="1" fill="#000"/>
<rect x="493" y="10" width="3" height="1" fill="#000"/>
<rect x="494" y="11" width="1" height="1" fill="#000"/>
<rect x="531" y="9" width="5" height="1" fill="#000"/>
<rect x="532" y="10" width="3" height="1" fill="#000"/>
<rect x="533" y="11" width="1" height="1" fill="#000"/>
<rect x="570" y="9" width="5" height="1" fill="#000"/>
<rect x="571" y="10" width="3" height="1" fill="#000"/>
<rect x="572" y="11" width="1" height="1" fill="#000"/>
<rect x="876" y="9" width="5" height="1" fill="#000"/>
<rect x="877" y="10" width="3" height="1" fill="#000"/>
<rect x="878" y="11" width="1" height="1" fill="#000"/>
</g>
<g shape-rendering="geometricPrecision">
<rect x="-1" y="12.5" width="3.5" height="3" fill="#22c022" stroke="#0a7a0a" stroke-width=".8"/>
<text x="5.7" y="12.9" font-size="12" fill="#000">新订单</text>
<defs><linearGradient id="gb" x1="0" y1="0" x2="1" y2="1"><stop offset="0" stop-color="#f7dc58"/><stop offset=".55" stop-color="#e8b820"/><stop offset="1" stop-color="#c98f10"/></linearGradient></defs>
<path d="M59.8 3.1L69.7 11.6L61.7 17.8L54 12.3C56.5 9.5 58.5 6.5 59.8 3.1z" fill="url(#gb)" stroke="#b8820f" stroke-width=".9"/><path d="M54.6 12.8L61.7 17.6L69.2 11.9" fill="none" stroke="#a36c0c" stroke-width="1.5"/><path d="M55.6 11.9L61.8 16L67.8 11.3" fill="none" stroke="#fbeeb0" stroke-width=".8"/>
<path d="M84.3 3.6L86.5 2.3H95.3V11H84.3z" fill="#2488e8"/><path d="M87.5 3.8H95v7H87.5z" fill="#7cc4fa"/><rect x="89.3" y="6.3" width="4.6" height="1.4" fill="#fff"/><path d="M85.3 17.5a2.9 2.9 0 0 1-.3-5.7a3.3 3.3 0 0 1 5.9-.9a2.9 2.9 0 0 1 4.4 1.5a2.6 2.6 0 0 1-.2 5.1z" fill="#dfe8f6" stroke="#6f8fc8" stroke-width="1"/>
<g fill="none" stroke-linecap="round"><circle cx="118" cy="9.8" r="7.3" stroke="#a3b9dc" stroke-width="1.2" stroke-dasharray="5 1.2"/><circle cx="118" cy="9.8" r="5" stroke="#86a3d8" stroke-width="1.2" stroke-dasharray="4 1"/><circle cx="118" cy="9.8" r="2.9" stroke="#6a8cd4" stroke-width="1.1"/></g><path d="M118 9.8L123.6 4.6A7.7 7.7 0 0 1 118 17.5z" fill="#62b862" opacity=".8"/><circle cx="118" cy="9.5" r="1.9" fill="#2a62d8"/><rect x="117.3" y="9.8" width="1.5" height="7.8" fill="#18a018"/>
<path d="M138.6 9.6L151.8 8.8L152 12L145.2 17.6L143.6 17.4L138.4 12z" fill="#f4d24a" stroke="#c89a18" stroke-width=".9"/><ellipse cx="145" cy="7.6" rx="8" ry="2.6" fill="#4c9ed2" stroke="#2f80b4" stroke-width=".8"/><path d="M140.8 7.4C140.6 0.6 149.4 0.6 149.2 7.4C147 8.6 143 8.6 140.8 7.4z" fill="#7cc4ea" stroke="#3a8cc0" stroke-width=".7"/><circle cx="149.6" cy="13.7" r="4.2" fill="#e0240c" stroke="#b01808" stroke-width=".6"/><rect x="148" y="12.1" width="3.2" height="3.2" fill="#fff"/>
<text x="158.1" y="12.9" font-size="12" fill="#000" textLength="47.4">自动交易</text>
<g fill="#555"><rect x="231.1" y="5" width="1.2" height="13"/><rect x="229" y="14.9" width="13" height="1.2"/><path d="M231.7 3.6l2 2.7h-4z"/><path d="M243.3 15.5l-2.7 2v-4z"/></g>
<path d="M237.5 5v9M237.5 6.5h2.6M237.5 12.5h-2.6" stroke="#149414" stroke-width="1.4" fill="none"/>
<g fill="#555"><rect x="259.1" y="5" width="1.2" height="13"/><rect x="257" y="14.9" width="13" height="1.2"/><path d="M259.7 3.6l2 2.7h-4z"/><path d="M271.3 15.5l-2.7 2v-4z"/></g>
<rect x="265" y="2.2" width="1.2" height="12" fill="#0c8a0c"/><rect x="263.2" y="4.3" width="4.8" height="7.2" fill="#58e070" stroke="#0c8a0c" stroke-width="1"/>
<g fill="#555"><rect x="287.1" y="5" width="1.2" height="13"/><rect x="285" y="14.9" width="13" height="1.2"/><path d="M287.7 3.6l2 2.7h-4z"/><path d="M299.3 15.5l-2.7 2v-4z"/></g>
<path d="M286.3 12.8C289.5 10.5 290.5 7.3 292.5 7.3S295.5 10.2 298.3 11.2" stroke="#2a9a2a" stroke-width="1.3" fill="none"/>
<path d="M326.6 12.2l5.4 4.9" stroke="#a88412" stroke-width="3.4" stroke-linecap="round"/><path d="M326.8 12.3l5 4.6" stroke="#ecd040" stroke-width="1.8" stroke-linecap="round"/>
<circle cx="323" cy="7.8" r="5.3" fill="#d6ecfa" stroke="#3e7ccc" stroke-width="1.1"/>
<rect x="319.7" y="6.9" width="6.6" height="1.9" fill="#3f86b8"/>
<rect x="322.05" y="4.5" width="1.9" height="6.6" fill="#3f86b8"/>
<path d="M354.6 12.2l5.4 4.9" stroke="#a88412" stroke-width="3.4" stroke-linecap="round"/><path d="M354.8 12.3l5 4.6" stroke="#ecd040" stroke-width="1.8" stroke-linecap="round"/>
<circle cx="351" cy="7.8" r="5.3" fill="#d6ecfa" stroke="#3e7ccc" stroke-width="1.1"/>
<rect x="347.7" y="6.9" width="6.6" height="1.9" fill="#3f86b8"/>
<rect x="373" y="2" width="8" height="8" fill="#2f9e1e"/><path d="M374.5 5.5h5v3.8h-1v-1h-3v1h-1z" fill="#fff"/><rect x="375.5" y="6.4" width="3" height=".9" fill="#2f9e1e" opacity=".55"/><rect x="374" y="3" width="1" height="1" fill="#fff" opacity=".8"/>
<rect x="381" y="2" width="8" height="8" fill="#1e52d2"/><path d="M382.5 5.5h5v3.8h-1v-1h-3v1h-1z" fill="#fff"/><rect x="383.5" y="6.4" width="3" height=".9" fill="#1e52d2" opacity=".55"/><rect x="382" y="3" width="1" height="1" fill="#fff" opacity=".8"/>
<rect x="373" y="10" width="8" height="8" fill="#1e52d2"/><path d="M374.5 13.5h5v3.8h-1v-1h-3v1h-1z" fill="#fff"/><rect x="375.5" y="14.4" width="3" height=".9" fill="#1e52d2" opacity=".55"/><rect x="374" y="11" width="1" height="1" fill="#fff" opacity=".8"/>
<rect x="381" y="10" width="8" height="8" fill="#2f9e1e"/><path d="M382.5 13.5h5v3.8h-1v-1h-3v1h-1z" fill="#fff"/><rect x="383.5" y="14.4" width="3" height=".9" fill="#2f9e1e" opacity=".55"/><rect x="382" y="11" width="1" height="1" fill="#fff" opacity=".8"/>
<g fill="#555"><rect x="411.1" y="5" width="1.2" height="13"/><rect x="409" y="14.9" width="13" height="1.2"/><path d="M411.7 3.6l2 2.7h-4z"/><path d="M423.3 15.5l-2.7 2v-4z"/></g>
<path d="M416.3 6.2v6.8l3.7-3.4z" fill="#7be07b" stroke="#129012" stroke-width="1"/>
<g fill="#555"><rect x="439.1" y="5" width="1.2" height="13"/><rect x="437" y="14.9" width="13" height="1.2"/><path d="M439.7 3.6l2 2.7h-4z"/><path d="M451.3 15.5l-2.7 2v-4z"/></g>
<rect x="445" y="4" width="1.4" height="10" fill="#1c6ea4"/><path d="M446.8 9.5l3-2.6v1.9h1.8v1.4h-1.8v1.9z" fill="#d04000"/>
<path d="M471.5 3h7l3 3v8.5h-10z" fill="#fdfdfd" stroke="#9a9a9a" stroke-width="1"/><path d="M478.5 3v3h3" fill="none" stroke="#9a9a9a" stroke-width=".8"/><path d="M474 6.5c-1 0-1 1-1 2s0 1.5-1 1.5c1 0 1 .5 1 1.5s0 2 1 2" fill="none" stroke="#6a6040" stroke-width=".9"/><path d="M478.2 8.3h3.8v3.8h3.8v3.8h-3.8v3.6h-3.8v-3.6h-3.8v-3.8h3.8z" fill="#1fd01f" stroke="#0b7e0b" stroke-width="1"/>
<defs><linearGradient id="ck" x1="0" y1="0" x2="1" y2="1"><stop offset="0" stop-color="#4c9cf6"/><stop offset="1" stop-color="#0f4ab0"/></linearGradient></defs>
<circle cx="516" cy="10" r="6.9" fill="#f6f9fe" stroke="url(#ck)" stroke-width="2.3"/><g fill="#9aa4b4"><rect x="515.6" y="4.6" width=".9" height="1"/><rect x="515.6" y="14.4" width=".9" height="1"/><rect x="510.6" y="9.6" width="1" height=".9"/><rect x="520.4" y="9.6" width="1" height=".9"/></g><path d="M516.2 6.2v4l2.6 1" fill="none" stroke="#2a2a2a" stroke-width="1.1"/><rect x="515" y="12.4" width="2" height=".8" fill="#8fbcf2"/>
<rect x="547.6" y="3.6" width="14.8" height="13" fill="#fff" stroke="#2a6cc0" stroke-width="1.3"/><rect x="548" y="3.4" width="14" height="2.2" fill="#6fa6e6"/><rect x="548" y="10.2" width="14" height="1.1" fill="#2a6cc0"/><path d="M549.5 9.2h1.9l1.7-1.5h1.7l1 .8h1.8l1.5-1.4h1.2" fill="none" stroke="#a02000" stroke-width="1.3"/><path d="M549.5 14.6h1.8l1.4-1.2h1.6l2.2-1.4l2.3 2.4" fill="none" stroke="#109020" stroke-width="1.3"/>
<path d="M599 3v11.2l2.7-2.4 2.3 5.2 1.9-.9-2.3-5 3.6-.2z" fill="#4d4d4d"/>
<g fill="#4d4d4d"><rect x="624" y="9.6" width="6" height="1.4"/><rect x="633" y="9.6" width="6" height="1.4"/><rect x="630.8" y="3" width="1.4" height="6"/><rect x="630.8" y="12" width="1.4" height="6"/><rect x="631" y="9.9" width=".9" height=".9"/></g>
<rect x="664.8" y="4" width="1.4" height="13" fill="#4d4d4d"/><rect x="688" y="9.6" width="12" height="1.4" fill="#4d4d4d"/>
<path d="M716 16.7L728 4.7" stroke="#4d4d4d" stroke-width="1.2"/>
<g stroke="#4d4d4d" stroke-width="1" fill="none"><path d="M742 11.5L751 3.5M743 16.5L756 5M748 16.7L756.5 9"/><path d="M745.5 9.5l-1.2 6M748.5 7l-1.2 7M751.7 4.5l-1.4 8M754.7 2.5l-1 7" stroke-width=".9"/></g>
<text x="752.6" y="19" font-size="7" font-weight="bold" fill="#333">E</text>
<path d="M771 3.5H784" stroke="#4d4d4d" stroke-width="1" stroke-dasharray="1 1"/>
<path d="M771 6.5H784" stroke="#4d4d4d" stroke-width="1" stroke-dasharray="1 1"/>
<path d="M771 10.5H784" stroke="#4d4d4d" stroke-width="1" stroke-dasharray="1 1"/>
<path d="M771 14.5H780" stroke="#4d4d4d" stroke-width="1" stroke-dasharray="1 1"/>
<text x="780.6" y="19" font-size="7" font-weight="bold" fill="#333">F</text>
<text x="801.3" y="15" font-size="12.5" fill="#555" stroke="#555" stroke-width=".35" textLength="8.2" lengthAdjust="spacingAndGlyphs">A</text>
<g shape-rendering="crispEdges" stroke="#4d4d4d" stroke-width="1" stroke-dasharray="1 1"><path d="M828 4.5h13M828 16.5h13M828.5 4v13M840.5 4v13"/></g><rect x="827" y="3" width="2" height="1.4" fill="#4d4d4d"/>
<path d="M830 8h8M834 8v7.2" stroke="#555" stroke-width="1.5" fill="none"/>
<path d="M858.5 3.6l3.7 3.9l-3.7 1.3l-3.7-1.3z" fill="#4d4d4d"/><path d="M865.5 17.4l-3.7-3.9l3.7-1.3l3.7 1.3z" fill="#4d4d4d"/><path d="M857.3 11.3l2.2 2.2l4.7-5.4" fill="none" stroke="#4d4d4d" stroke-width="1.3"/>
<text x="902.6" y="13.7" font-size="9.6" fill="#333" stroke="#333" stroke-width=".15" textLength="12.6" lengthAdjust="spacingAndGlyphs">M1</text>
<text x="930.6" y="13.7" font-size="9.6" fill="#333" stroke="#333" stroke-width=".15" textLength="12.6" lengthAdjust="spacingAndGlyphs">M5</text>
<text x="956.5" y="13.7" font-size="9.6" fill="#333" stroke="#333" stroke-width=".15" textLength="17.6" lengthAdjust="spacingAndGlyphs">M15</text>
<text x="984.5" y="13.7" font-size="9.6" fill="#333" stroke="#333" stroke-width=".15" textLength="17.8" lengthAdjust="spacingAndGlyphs">M30</text>
<text x="1015.6" y="13.7" font-size="9.6" fill="#333" stroke="#333" stroke-width=".15" textLength="11.4" lengthAdjust="spacingAndGlyphs">H1</text>
<text x="1042.6" y="13.7" font-size="9.6" fill="#333" stroke="#333" stroke-width=".15" textLength="12.2" lengthAdjust="spacingAndGlyphs">H4</text>
<text x="1071.6" y="13.7" font-size="9.6" fill="#333" stroke="#333" stroke-width=".15" textLength="11.4" lengthAdjust="spacingAndGlyphs">D1</text>
<text x="1099" y="13.7" font-size="9.6" fill="#333" stroke="#333" stroke-width=".15" textLength="14" lengthAdjust="spacingAndGlyphs">W1</text>
<text x="1125.6" y="13.7" font-size="9.6" fill="#333" stroke="#333" stroke-width=".15" textLength="14.4" lengthAdjust="spacingAndGlyphs">MN</text>
<path d="M1615 10.7l-4.2 4.2" stroke="#2a5cd0" stroke-width="2.2" stroke-linecap="round"/><circle cx="1618.4" cy="7.4" r="3.9" fill="#fafcff" stroke="#2a5cd0" stroke-width="1.1"/>
<defs><linearGradient id="bg" x1="0" y1="0" x2="0" y2="1"><stop offset="0" stop-color="#ec5434"/><stop offset="1" stop-color="#d41c0c"/></linearGradient></defs>
<path d="M1635.5 11.5a5.5 4.3 0 0 1 5.5-4.3h3a5.5 4.3 0 0 1 0 8.6h-3.5l-2.6 2.6l.3-2.9a5.2 4.3 0 0 1-2.7-4z" fill="#f3f4f8" stroke="#b8b8c0" stroke-width=".9"/>
<circle cx="1649.4" cy="7.4" r="8.1" fill="url(#bg)"/>
<text x="1645.2" y="12" font-size="12.5" font-weight="bold" fill="#fff" textLength="6.4" lengthAdjust="spacingAndGlyphs">1</text>
</g>
</svg>
</body></html>
